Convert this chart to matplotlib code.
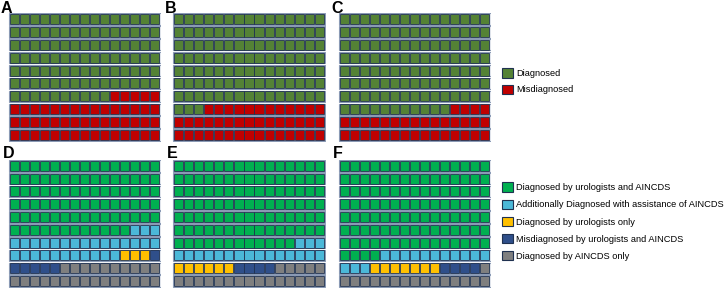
import matplotlib.pyplot as plt
from matplotlib.patches import Rectangle, Patch

plt.rcParams['font.family'] = ['Liberation Sans', 'DejaVu Sans']

# waffle grids: 10 rows x 15 columns, counts per category (filled row by row)
n_rows, n_cols = 10, 15

top_labels = ['Diagnosed', 'Misdiagnosed']
top_colors = ['#548235', '#C00000']
counts_A = [100, 50]
counts_B = [108, 42]
counts_C = [116, 34]

bottom_labels = ['Diagnosed by urologists and AINCDS',
                 'Additionally Diagnosed with assistance of AINCDS',
                 'Diagnosed by urologists only',
                 'Misdiagnosed by urologists and AINCDS',
                 'Diagnosed by AINCDS only']
bottom_colors = ['#00B050', '#4BB8D8', '#FFC000', '#2F4F8A', '#7F7F7F']
counts_D = [87, 29, 3, 6, 25]
counts_E = [102, 18, 6, 4, 20]
counts_F = [109, 14, 7, 4, 16]

edge = '#1F3150'
strip_edge = '#8A9AB5'

W, H = 724, 288
fig = plt.figure(figsize=(W / 100, H / 100), dpi=100)


def px_axes(x0, y0, x1, y1):
    return fig.add_axes([x0 / W, 1 - y1 / H, (x1 - x0) / W, (y1 - y0) / H])


def waffle(ax, counts, colors):
    cells = []
    for k, c in enumerate(counts):
        cells += [colors[k]] * c
    for r in range(n_rows):
        ax.add_patch(Rectangle((-0.1, r + 0.02), n_cols + 0.2, 0.88,
                               facecolor='#E4E8EF', edgecolor=strip_edge, lw=0.8))
        for c in range(n_cols):
            col = cells[r * n_cols + c]
            ax.add_patch(Rectangle((c + 0.04, r + 0.07), 0.92, 0.78,
                                   facecolor=col, edgecolor=edge, lw=0.6))
    ax.set_xlim(-0.15, n_cols + 0.15)
    ax.set_ylim(n_rows, 0)
    ax.axis('off')


xs = [(8, 161), (172, 326), (338, 491)]
top_y = (13, 142)
bot_y = (160, 288)

for (x0, x1), counts, lab in zip(xs, [counts_A, counts_B, counts_C], 'ABC'):
    ax = px_axes(x0, top_y[0], x1, top_y[1])
    waffle(ax, counts, top_colors)
    fig.text((x0 - 7) / W, 1 - 13 / H, lab, fontsize=11.5, fontweight='bold')

for (x0, x1), counts, lab in zip(xs, [counts_D, counts_E, counts_F], 'DEF'):
    ax = px_axes(x0, bot_y[0], x1, bot_y[1])
    waffle(ax, counts, bottom_colors)
    fig.text((x0 - 5) / W, 1 - 158 / H, lab, fontsize=11.5, fontweight='bold')

top_handles = [Patch(facecolor=c, edgecolor=edge, lw=0.8) for c in top_colors]
fig.legend(top_handles, top_labels, loc='upper left',
           bbox_to_anchor=(494 / W, 1 - 60 / H), frameon=False, fontsize=6.7,
           handlelength=1.15, handleheight=1.15, handletextpad=0.3,
           labelspacing=0.7)

bottom_handles = [Patch(facecolor=c, edgecolor=edge, lw=0.8) for c in bottom_colors]
fig.legend(bottom_handles, bottom_labels, loc='upper left',
           bbox_to_anchor=(494 / W, 1 - 174 / H), frameon=False, fontsize=6.7,
           handlelength=1.15, handleheight=1.15, handletextpad=0.3,
           labelspacing=0.8)

fig.savefig('out.png', dpi=100)
